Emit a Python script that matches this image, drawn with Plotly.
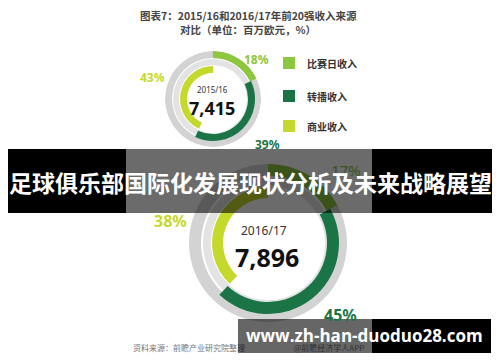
import plotly.graph_objects as go

# ---------------- data ----------------
categories = ["比赛日收入", "转播收入", "商业收入"]
share_1516 = [18, 39, 43]
share_1617 = [17, 45, 38]
total_1516 = "7,415"
total_1617 = "7,896"
season_1516 = "2015/16"
season_1617 = "2016/17"
pct_labels_1516 = ["18%", "39%", "43%"]
pct_labels_1617 = ["17%", "45%", "38%"]

title_line1 = "图表7：2015/16和2016/17年前20强收入来源"
title_line2 = "对比（单位：百万欧元，%）"
banner_text = "足球俱乐部国际化发展现状分析及未来战略展望"
watermark_text = "www.zh-han-duoduo28.com"
source_text = "资料来源：前瞻产业研究院整理"
app_text = "@前瞻经济学人APP"

# ---------------- styles ----------------
W, H = 500, 362
seg_colors = ["#8dc63f", "#1b7445", "#c5d82c"]
CJK = "Noto Sans CJK SC"

fig = go.Figure()

# hidden pixel-space cartesian axes for text / overlays
fig.add_trace(go.Scatter(x=[0, W], y=[0, H], mode="markers",
                         marker=dict(opacity=0), hoverinfo="skip", showlegend=False))


def donut(name, shares, cx, cy, R, ring_out, ring_in, seg_radii):
    """Add a radial-segment donut into its own polar subplot."""
    dom_x = [(cx - R) / W, (cx + R) / W]
    dom_y = [1 - (cy + R) / H, 1 - (cy - R) / H]
    for (b, t, col) in [ring_out, ring_in]:
        fig.add_trace(go.Barpolar(theta=[180], width=[360], base=[b], r=[t - b],
                                  marker=dict(color=col, line=dict(width=0)),
                                  subplot=name, showlegend=False, hoverinfo="skip"))
    start = 0
    for i, s in enumerate(shares):
        mid = (start + s / 2) * 3.6
        b, t = seg_radii[i]
        fig.add_trace(go.Barpolar(theta=[mid], width=[s * 3.6], base=[b], r=[t - b],
                                  marker=dict(color=seg_colors[i], line=dict(width=0)),
                                  subplot=name, showlegend=False, name=categories[i]))
        start += s
    fig.update_layout(**{name: dict(
        domain=dict(x=dom_x, y=dom_y),
        bgcolor="rgba(0,0,0,0)",
        barmode="overlay",
        radialaxis=dict(visible=False, range=[0, R]),
        angularaxis=dict(visible=False, direction="clockwise", rotation=90),
    )})


donut("polar", share_1516, 213, 99, 48,
      (41, 48, "#d3d3d3"), (34, 40, "#e3e3e3"),
      [(41, 48), (35, 42), (26, 33)])
donut("polar2", share_1617, 268, 243, 80,
      (67, 79, "#d3d3d3"), (57, 65, "#e3e3e3"),
      [(67, 79), (59, 71), (45, 56)])

# labels that must sit beneath the semi-transparent overlays -> scatter text
fig.add_trace(go.Scatter(x=[346], y=[172], mode="text", text=[pct_labels_1617[0]],
                         textfont=dict(family="Noto Sans", size=15, color=seg_colors[0]),
                         hoverinfo="skip", showlegend=False))
fig.add_trace(go.Scatter(x=[189], y=[349], mode="text", text=[source_text],
                         textfont=dict(family=CJK, size=8, color="#777777"),
                         hoverinfo="skip", showlegend=False))
fig.add_trace(go.Scatter(x=[329], y=[349], mode="text", text=[app_text],
                         textfont=dict(family=CJK, size=8, color="#777777"),
                         hoverinfo="skip", showlegend=False))

ann = []
ann.append(dict(x=248, y=15, text=f"<b>{title_line1}</b>", font=dict(family=CJK, size=10.5, color="#444444")))
ann.append(dict(x=248, y=29, text=f"<b>{title_line2}</b>", font=dict(family=CJK, size=10.5, color="#444444")))
ann.append(dict(x=212, y=89, text=season_1516, font=dict(family="Noto Sans", size=8, color="#333333")))
ann.append(dict(x=212, y=108, text=f"<b>{total_1516}</b>", font=dict(family="Noto Sans", size=18, color="#111111")))
ann.append(dict(x=264, y=230, text=season_1617, font=dict(family="Noto Sans", size=12, color="#333333")))
ann.append(dict(x=267, y=257, text=f"<b>{total_1617}</b>", font=dict(family="Noto Sans", size=25, color="#111111")))
ann.append(dict(x=256, y=59, text=f"<b>{pct_labels_1516[0]}</b>", font=dict(family="Noto Sans", size=12, color=seg_colors[0])))
ann.append(dict(x=267, y=144, text=f"<b>{pct_labels_1516[1]}</b>", font=dict(family="Noto Sans", size=12, color=seg_colors[1])))
ann.append(dict(x=152, y=77, text=f"<b>{pct_labels_1516[2]}</b>", font=dict(family="Noto Sans", size=12, color=seg_colors[2])))
ann.append(dict(x=340, y=315, text=f"<b>{pct_labels_1617[1]}</b>", font=dict(family="Noto Sans", size=16, color=seg_colors[1])))
ann.append(dict(x=170, y=221, text=f"<b>{pct_labels_1617[2]}</b>", font=dict(family="Noto Sans", size=16, color=seg_colors[2])))
legend_y = [63, 96, 126]
for i, c in enumerate(categories):
    ann.append(dict(x=305, y=legend_y[i], text=f"<b>{c}</b>", xanchor="left",
                    font=dict(family=CJK, size=10, color="#333333")))
ann.append(dict(x=250, y=182, text=f"<b>{banner_text}</b>", font=dict(family=CJK, size=23, color="white")))
ann.append(dict(x=364, y=335, text=f"<b>{watermark_text}</b>", font=dict(family="Open Sans", size=17, color="white")))

for a in ann:
    a.setdefault("xanchor", "center")
    a.update(xref="x", yref="y", showarrow=False, yanchor="middle")

shapes = []
for i in range(3):
    shapes.append(dict(type="rect", x0=283, x1=295, y0=legend_y[i] - 6, y1=legend_y[i] + 6,
                       fillcolor=seg_colors[i], line=dict(width=0), layer="above"))
shapes.append(dict(type="rect", x0=8, x1=126, y0=149, y1=213, fillcolor="black", line=dict(width=0), layer="above"))
shapes.append(dict(type="rect", x0=372, x1=492, y0=149, y1=213, fillcolor="black", line=dict(width=0), layer="above"))
shapes.append(dict(type="rect", x0=126, x1=372, y0=149, y1=213, fillcolor="rgba(0,0,0,0.58)", line=dict(width=0), layer="above"))
shapes.append(dict(type="rect", x0=238, x1=372, y0=319, y1=353, fillcolor="rgba(0,0,0,0.6)", line=dict(width=0), layer="above"))
shapes.append(dict(type="rect", x0=372, x1=491, y0=319, y1=353, fillcolor="black", line=dict(width=0), layer="above"))
for s in shapes:
    s.update(xref="x", yref="y")

fig.update_layout(
    width=W, height=H,
    margin=dict(l=0, r=0, t=0, b=0),
    paper_bgcolor="white", plot_bgcolor="white",
    xaxis=dict(range=[0, W], visible=False, domain=[0, 1], fixedrange=True),
    yaxis=dict(range=[H, 0], visible=False, domain=[0, 1], fixedrange=True),
    annotations=ann, shapes=shapes, showlegend=False,
)

fig.write_html("out.html")
